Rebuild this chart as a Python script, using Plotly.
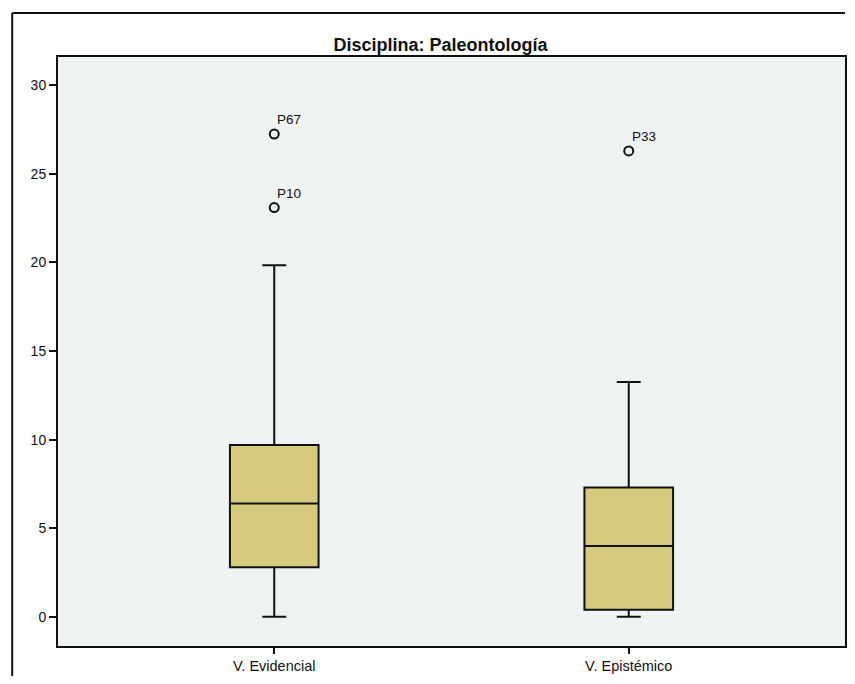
import plotly.graph_objects as go

# box statistics
categories = ["V. Evidencial", "V. Epistémico"]
q1 = [2.8, 0.4]
median = [6.4, 4.0]
q3 = [9.7, 7.3]
lower_fence = [0.0, 0.0]
upper_fence = [19.85, 13.25]

# outliers
outlier_cat = ["V. Evidencial", "V. Evidencial", "V. Epistémico"]
outlier_val = [27.25, 23.1, 26.3]
outlier_lbl = ["P67", "P10", "P33"]

FONT = "Arial, Liberation Sans, sans-serif"

fig = go.Figure()

fig.add_trace(go.Box(
    x=categories,
    q1=q1,
    median=median,
    q3=q3,
    lowerfence=lower_fence,
    upperfence=upper_fence,
    fillcolor="#d6ca7c",
    line=dict(color="#111111", width=2),
    width=0.25,
    whiskerwidth=0.27,
    boxpoints=False,
    showlegend=False,
    hoverinfo="skip",
))

fig.add_trace(go.Scatter(
    x=outlier_cat,
    y=outlier_val,
    mode="markers",
    marker=dict(symbol="circle-open", size=9, color="#111111", line=dict(width=2)),
    showlegend=False,
))

for c, v, t in zip(outlier_cat, outlier_val, outlier_lbl):
    fig.add_annotation(
        x=c, y=v, text=t, showarrow=False,
        xanchor="left", yanchor="bottom",
        xshift=1, yshift=5,
        font=dict(family=FONT, size=13.5, color="#111111"),
    )

# outer frame of the scanned figure (left and top edges)
fig.add_shape(type="line", xref="paper", yref="paper",
              x0=-0.0582, x1=-0.0582, y0=1.0747, y1=-0.07,
              line=dict(color="#111111", width=2))
fig.add_shape(type="line", xref="paper", yref="paper",
              x0=-0.0582, x1=1.0, y0=1.0747, y1=1.0747,
              line=dict(color="#111111", width=2))

# page body has an 8px margin, so the figure is sized to fit the window
fig.update_layout(
    width=839, height=668,
    margin=dict(l=50, r=0, t=49, b=30),
    paper_bgcolor="white",
    plot_bgcolor="#eff3f4",
    title=dict(text="<b>Disciplina: Paleontología</b>", xref="paper", x=0.486,
               xanchor="center", y=1 - 37 / 668, yanchor="middle",
               font=dict(family=FONT, size=18, color="#111111")),
    font=dict(family=FONT, size=12, color="#111111"),
)

fig.update_xaxes(
    type="category", range=[-0.61, 1.61],
    showline=True, mirror=True, linecolor="#111111", linewidth=2,
    ticks="outside", ticklen=6, tickwidth=2, tickcolor="#111111",
    showgrid=False, zeroline=False,
    tickfont=dict(size=14.5),
)
fig.update_yaxes(
    range=[-1.65, 31.6], tickvals=[0, 5, 10, 15, 20, 25, 30],
    showline=True, mirror=True, linecolor="#111111", linewidth=2,
    ticks="outside", ticklen=7, tickwidth=2, tickcolor="#111111",
    showgrid=False, zeroline=False,
    tickfont=dict(size=14),
)

fig.write_html("out.html")
